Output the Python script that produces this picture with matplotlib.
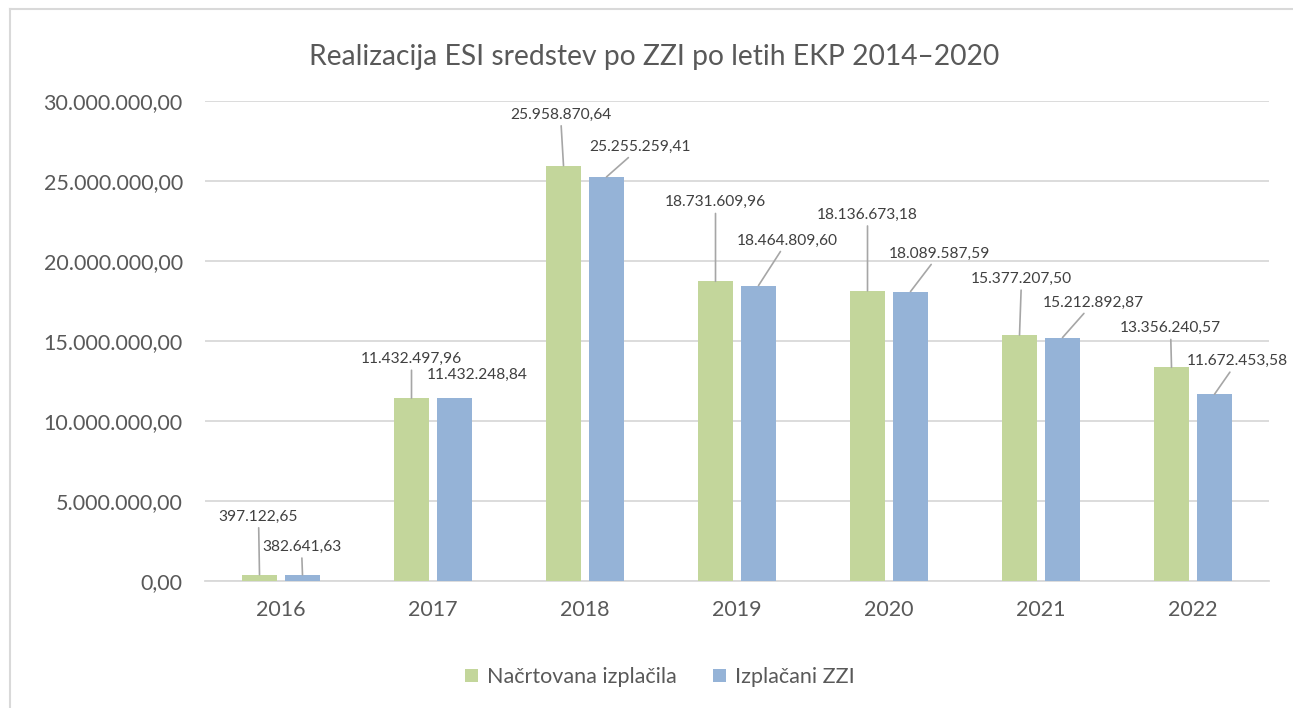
import matplotlib.pyplot as plt
from matplotlib.lines import Line2D
import numpy as np

# podatki
years = ['2016', '2017', '2018', '2019', '2020', '2021', '2022']
planned = [397122.65, 11432497.96, 25958870.64, 18731609.96, 18136673.18, 15377207.50, 13356240.57]
paid = [382641.63, 11432248.84, 25255259.41, 18464809.60, 18089587.59, 15212892.87, 11672453.58]
series_names = ['Načrtovana izplačila', 'Izplačani ZZI']

# zamiki oznak (v pikslih) od vrha stolpca
planned_offsets = [(-1, 58), (0, 39), (-3, 51), (0, 79), (0, 76), (2, 56), (-1, 39)]
paid_offsets = [(-1, 28), (23, 23), (34, 30), (29, 45), (29, 38), (31, 35), (23, 33)]
no_leader = [('paid', 1)]

plt.rcParams['font.family'] = ['Lato', 'DejaVu Sans']

def fmt(v):
    s = f'{v:,.2f}'
    return s.replace(',', 'X').replace('.', ',').replace('X', '.')

fig = plt.figure(figsize=(12.93, 7.08), dpi=100)
ax = fig.add_axes([205 / 1293, 1 - 581 / 708, 1064 / 1293, 480 / 708])

# okvir grafikona (levo in zgoraj)
fx, fy = 10 / 1293, 1 - 9 / 708
fig.add_artist(Line2D([fx, fx], [0, fy], transform=fig.transFigure,
                      color='#D9D9D9', lw=1.5))
fig.add_artist(Line2D([fx, 1], [fy, fy], transform=fig.transFigure,
                      color='#D9D9D9', lw=1.5))

x = np.arange(len(years))
w = 0.224
off = 0.1414
green = '#C3D69B'
blue = '#95B3D7'
b1 = ax.bar(x - off, planned, w, color=green, label=series_names[0], zorder=3)
b2 = ax.bar(x + off, paid, w, color=blue, label=series_names[1], zorder=3)

def label_bars(bars, values, offsets, key):
    for i, (bar, v, (dx, dy)) in enumerate(zip(bars, values, offsets)):
        xc = bar.get_x() + bar.get_width() / 2
        arrow = None
        if (key, i) not in no_leader:
            arrow = dict(arrowstyle='-', color='#A6A6A6', lw=1.2,
                         shrinkA=1, shrinkB=0)
        ax.annotate(fmt(v), xy=(xc, v), xytext=(dx, dy),
                    textcoords='offset pixels', ha='center', va='center',
                    fontsize=11.2, color='#404040', arrowprops=arrow,
                    zorder=4, annotation_clip=False)

label_bars(b1, planned, planned_offsets, 'planned')
label_bars(b2, paid, paid_offsets, 'paid')

ax.set_xlim(-0.5, len(years) - 0.5)
ax.set_ylim(0, 30000000)
ax.set_yticks(np.arange(0, 30000001, 5000000))
ax.set_yticklabels([fmt(t) for t in ax.get_yticks()])
ax.set_xticks(x)
ax.set_xticklabels(years)
ax.tick_params(axis='both', length=0, labelsize=15.5, colors='#595959')
ax.tick_params(axis='y', pad=16)
ax.tick_params(axis='x', pad=14)
ax.grid(axis='y', color='#D9D9D9', linewidth=1.3, zorder=0)
for s in ['top', 'right', 'left']:
    ax.spines[s].set_visible(False)
ax.spines['bottom'].set_color('#D9D9D9')
ax.spines['bottom'].set_linewidth(1.3)

fig.text(654 / 1293, 1 - 57 / 708, 'Realizacija ESI sredstev po ZZI po letih EKP 2014–2020',
         ha='center', va='center', fontsize=20.3, color='#595959')

fig.legend(loc='center', bbox_to_anchor=(660 / 1293, 1 - 677 / 708), ncol=2,
           frameon=False, fontsize=15.5, labelcolor='#595959', handlelength=0.6,
           handleheight=0.6, handletextpad=0.4, columnspacing=1.7)

fig.savefig('out.png', dpi=100)
